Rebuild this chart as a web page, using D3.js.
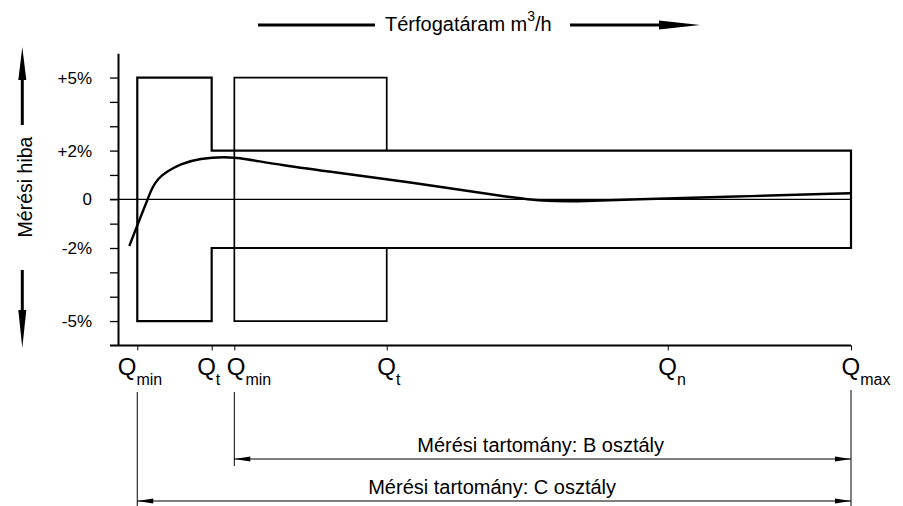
<!DOCTYPE html>
<html>
<head>
<meta charset="utf-8">
<script src="https://cdn.jsdelivr.net/npm/d3@7"></script>
<style>
  body { margin: 0; background: #fff; }
  svg { display: block; font-family: "Liberation Sans", Arial, sans-serif; }
</style>
</head>
<body>
<div id="chart"></div>
<script>
// flow positions (% of Qmax) and their labels: C class Qmin, Qt, B class Qmin, Qt, then Qn, Qmax
var flowPos = [2.63, 12.78, 15.87, 36.66, 75, 100];
var flowSub = ['min', 't', 'min', 't', 'n', 'max'];

// error axis
var errorTicks = [-5, -4, -3, -2, -1, 0, 1, 2, 3, 4, 5];
var errorLabelVals = [5, 2, 0, -2, -5];
var errorLabels = ['+5%', '+2%', '0', '-2%', '-5%'];
var limitWide = 5, limitNarrow = 2;

// measured error curve
var curveFlow = [1.54, 2.55, 3.46, 4.05, 4.6, 5.5, 6.64, 8.46, 11.19, 14.6, 17.05, 22.1, 30.3, 38.5, 53.5, 58.0, 62.1, 70.3, 83.9, 99.9];
var curveErr = [-1.92, -1.13, -0.44, 0, 0.45, 0.87, 1.13, 1.45, 1.68, 1.75, 1.68, 1.41, 1.08, 0.76, 0.08, -0.07, -0.1, 0, 0.11, 0.25];

var rangeLabels = ['Mérési tartomány: B osztály', 'Mérési tartomány: C osztály'];

var width = 903, height = 506;

var svg = d3.select('#chart').append('svg')
  .attr('width', width)
  .attr('height', height);

var x = d3.scaleLinear().domain([0, 100]).range([118, 851]);
var y = d3.scaleLinear().domain([-6, 6]).range([345.4, 53.2]);

var qminC = flowPos[0], qtC = flowPos[1], qminB = flowPos[2], qtB = flowPos[3], qmax = flowPos[5];

function arrow(tipX, tipY, dx, dy, len, half) {
  // dx,dy = unit direction of the arrow
  var bx = tipX - dx * len, by = tipY - dy * len;
  return 'M' + tipX + ',' + tipY +
    'L' + (bx - dy * half) + ',' + (by + dx * half) +
    'L' + (bx + dy * half) + ',' + (by - dx * half) + 'Z';
}

// zero line
svg.append('line')
  .attr('x1', x(0) - 8).attr('x2', x(qmax))
  .attr('y1', y(0)).attr('y2', y(0))
  .attr('stroke', '#000').attr('stroke-width', 1.2);

// y axis
var yAxis = svg.append('g')
  .attr('transform', 'translate(' + x(0) + ',0)')
  .call(d3.axisLeft(y).tickValues(errorTicks).tickSize(8).tickSizeOuter(0).tickFormat(''));
yAxis.select('.domain').attr('stroke-width', 2);
yAxis.selectAll('.tick line').attr('stroke-width', 1.3);

svg.selectAll('.ylab')
  .data(errorLabelVals)
  .enter()
  .append('text')
  .attr('class', 'ylab')
  .attr('x', 92)
  .attr('y', function (d) { return y(d); })
  .attr('dy', '0.36em')
  .attr('text-anchor', 'end')
  .attr('font-size', 17)
  .text(function (d, i) { return errorLabels[i]; });

// x axis
svg.append('line')
  .attr('x1', x(0) - 8).attr('x2', x(qmax))
  .attr('y1', y(-6)).attr('y2', y(-6))
  .attr('stroke', '#000').attr('stroke-width', 2);

var xAxis = svg.append('g')
  .attr('transform', 'translate(0,' + y(-6) + ')')
  .call(d3.axisBottom(x).tickValues(flowPos).tickSize(5).tickSizeOuter(0).tickFormat(''));
xAxis.select('.domain').remove();

// Q labels, a few nudged apart where they crowd
var labelNudge = [-10, -5, 2, 0, 0, 0];
var qLab = svg.selectAll('.xlab')
  .data(flowPos)
  .enter()
  .append('text')
  .attr('class', 'xlab')
  .attr('x', function (d, i) { return x(d) - 9.5 + labelNudge[i]; })
  .attr('y', 375)
  .attr('font-size', 24);
qLab.append('tspan').text('Q');
qLab.append('tspan')
  .attr('font-size', 16)
  .attr('dy', 10)
  .text(function (d, i) { return flowSub[i]; });

// C class envelope
var line = d3.line()
  .x(function (d) { return x(d[0]); })
  .y(function (d) { return y(d[1]); });

svg.append('path')
  .attr('d', line([
    [qminC, limitWide], [qtC, limitWide], [qtC, limitNarrow], [qmax, limitNarrow],
    [qmax, -limitNarrow], [qtC, -limitNarrow], [qtC, -limitWide], [qminC, -limitWide]
  ]) + 'Z')
  .attr('fill', 'none')
  .attr('stroke', '#000')
  .attr('stroke-width', 2.2);

// B class box
svg.append('path')
  .attr('d', line([
    [qtB, limitNarrow], [qtB, limitWide], [qminB, limitWide], [qminB, -limitWide],
    [qtB, -limitWide], [qtB, -limitNarrow]
  ]))
  .attr('fill', 'none')
  .attr('stroke', '#000')
  .attr('stroke-width', 1.7);

// error curve
var pts = curveFlow.map(function (d, i) { return [d, curveErr[i]]; });
svg.append('path')
  .attr('d', d3.line()
    .x(function (d) { return x(d[0]); })
    .y(function (d) { return y(d[1]); })
    .curve(d3.curveBasis)(pts))
  .attr('fill', 'none')
  .attr('stroke', '#000')
  .attr('stroke-width', 2.4);

// measuring ranges
var ranges = [
  { from: qminB, to: qmax, y: 459, label: rangeLabels[0] },
  { from: qminC, to: qmax, y: 501, label: rangeLabels[1] }
];

// extension lines
svg.append('line')
  .attr('x1', x(qminC)).attr('x2', x(qminC))
  .attr('y1', 392).attr('y2', 506)
  .attr('stroke', '#000').attr('stroke-width', 1);
svg.append('line')
  .attr('x1', x(qminB)).attr('x2', x(qminB))
  .attr('y1', 392).attr('y2', 466)
  .attr('stroke', '#000').attr('stroke-width', 1);
svg.append('line')
  .attr('x1', x(qmax)).attr('x2', x(qmax))
  .attr('y1', 390).attr('y2', 506)
  .attr('stroke', '#000').attr('stroke-width', 1);

var rg = svg.selectAll('.range')
  .data(ranges)
  .enter()
  .append('g')
  .attr('class', 'range');

rg.append('line')
  .attr('x1', function (d) { return x(d.from); })
  .attr('x2', function (d) { return x(d.to); })
  .attr('y1', function (d) { return d.y; })
  .attr('y2', function (d) { return d.y; })
  .attr('stroke', '#000').attr('stroke-width', 1);

rg.append('path')
  .attr('d', function (d) { return arrow(x(d.from), d.y, -1, 0, 16, 2.6); });
rg.append('path')
  .attr('d', function (d) { return arrow(x(d.to), d.y, 1, 0, 16, 2.6); });

rg.append('text')
  .attr('x', function (d) { return (x(d.from) + x(d.to)) / 2 - 2; })
  .attr('y', function (d) { return d.y - 7; })
  .attr('text-anchor', 'middle')
  .attr('font-size', 20)
  .text(function (d) { return d.label; });

// top flow arrow + title
svg.append('line')
  .attr('x1', 258).attr('x2', 375).attr('y1', 25).attr('y2', 25)
  .attr('stroke', '#000').attr('stroke-width', 3);
svg.append('line')
  .attr('x1', 570).attr('x2', 665).attr('y1', 25).attr('y2', 25)
  .attr('stroke', '#000').attr('stroke-width', 3);
svg.append('path').attr('d', arrow(700, 25, 1, 0, 41, 4.5));

var title = svg.append('text')
  .attr('x', 385).attr('y', 31)
  .attr('font-size', 20);
title.append('tspan').text('Térfogatáram m');
title.append('tspan').attr('font-size', 14).attr('dy', -10).text('3');
title.append('tspan').attr('dy', 10).text('/h');

// y title with arrows
svg.append('text')
  .attr('transform', 'translate(32,187) rotate(-90)')
  .attr('text-anchor', 'middle')
  .attr('font-size', 19.5)
  .text('Mérési hiba');

svg.append('line')
  .attr('x1', 22.3).attr('x2', 22.3).attr('y1', 125).attr('y2', 76)
  .attr('stroke', '#000').attr('stroke-width', 3);
svg.append('path').attr('d', arrow(22.3, 47, 0, -1, 33, 4));

svg.append('line')
  .attr('x1', 22.3).attr('x2', 22.3).attr('y1', 270).attr('y2', 314)
  .attr('stroke', '#000').attr('stroke-width', 3);
svg.append('path').attr('d', arrow(22.3, 348, 0, 1, 38, 4));
</script>
</body>
</html>
